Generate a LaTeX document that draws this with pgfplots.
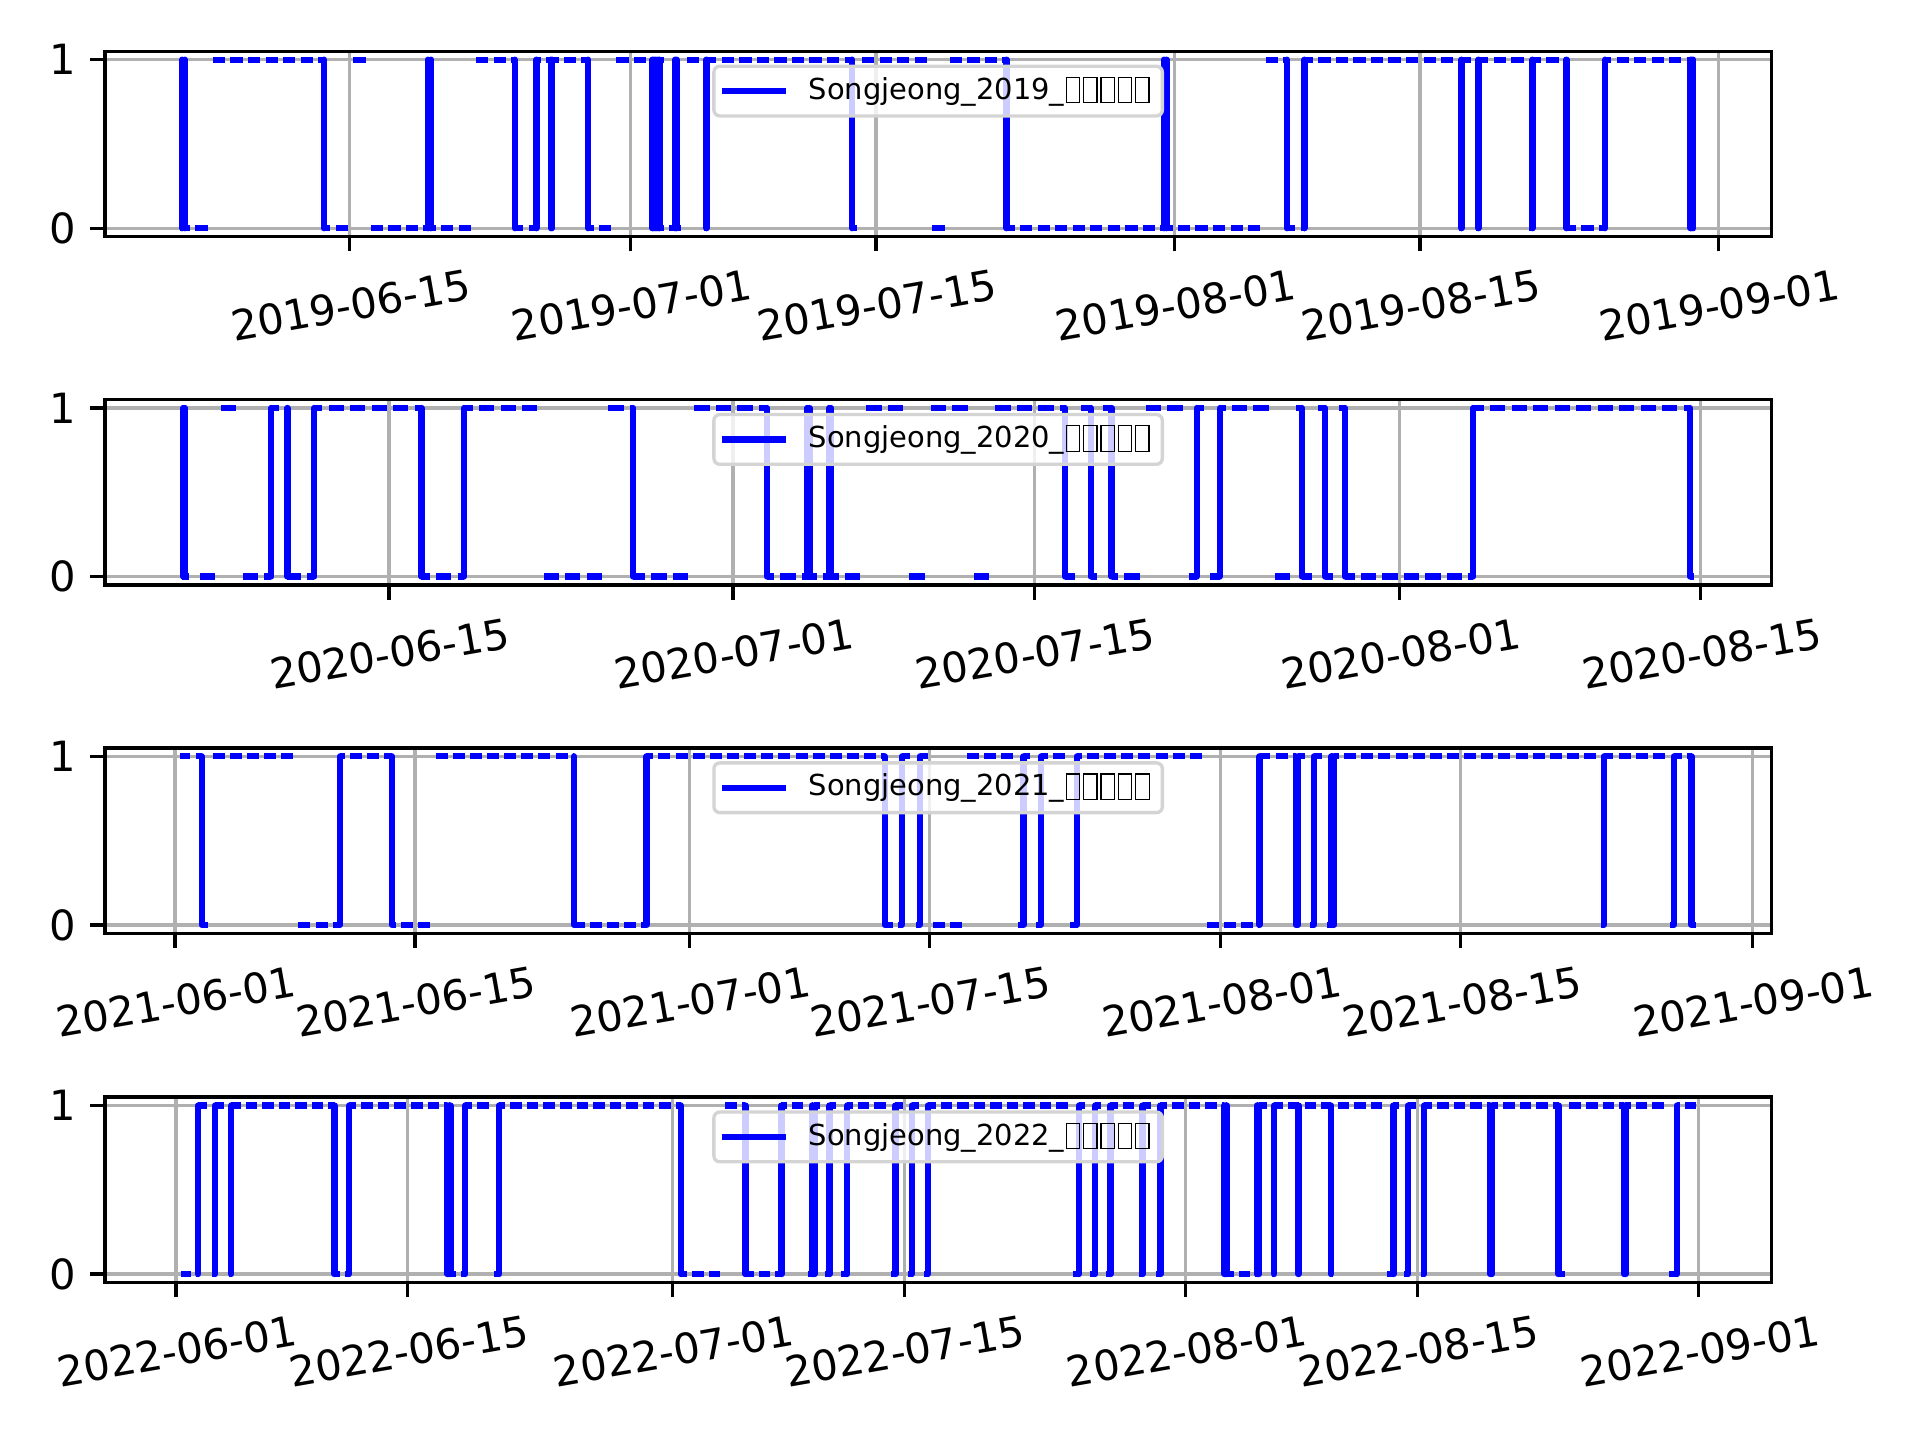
\documentclass[border=0pt]{standalone}
\usepackage{fontspec}
\setmainfont{DejaVu Sans}
\usepackage{pgfplots}
\usepackage{pgfplotstable}
\pgfplotsset{compat=1.18}
\definecolor{gridgray}{HTML}{B0B0B0}
\definecolor{legendgray}{HTML}{D4D4D4}
\newcommand\tofu{\makebox[0.6em][c]{\setlength\fboxsep{0pt}\setlength\fboxrule{0.3bp}\fbox{\rule[-0.1em]{0pt}{0.84em}\hspace{0.42em}}}}
\newcommand\tofus{\tofu\tofu\tofu\tofu\tofu}

% ---------------- 2019 ----------------
\pgfplotstableread[row sep=\\]{
x y\\
5.2 0\\5.9 0\\nan nan\\
6.2 1\\12.52 1\\nan nan\\
13.2 0\\13.9 0\\nan nan\\
14.2 1\\14.9 1\\nan nan\\
15.2 0\\20.9 0\\nan nan\\
21.2 1\\23.4 1\\nan nan\\
24.2 0\\24.64 0\\nan nan\\
25.2 1\\27.59 1\\nan nan\\
28.2 0\\28.9 0\\nan nan\\
29.2 1\\30.9 1\\nan nan\\
32.2 0\\32.9 0\\nan nan\\
33.2 1\\33.9 1\\nan nan\\
34.2 0\\34.33 0\\nan nan\\
35.2 1\\42.63 1\\nan nan\\
43.2 1\\46.9 1\\nan nan\\
47.2 0\\47.9 0\\nan nan\\
48.2 1\\51.43 1\\nan nan\\
52.2 0\\65.9 0\\nan nan\\
66.2 1\\67.4 1\\nan nan\\
68.2 0\\68.42 0\\nan nan\\
69.2 1\\76.9 1\\nan nan\\
77.2 0\\77.37 0\\nan nan\\
78.2 0\\78.33 0\\nan nan\\
79.2 1\\80.9 1\\nan nan\\
81.2 0\\81.41 0\\nan nan\\
82.2 1\\83.35 1\\nan nan\\
84.2 0\\85.55 0\\nan nan\\
86.2 1\\90.42 1\\
}\Adash
\pgfplotstableread[row sep=\\]{
x y\\
4.3 0\\4.9 0\\nan nan\\
4.45 1\\4.6 1\\nan nan\\
12.52 0\\12.9 0\\nan nan\\
18.45 1\\18.62 1\\nan nan\\
23.4 0\\23.9 0\\nan nan\\
24.64 1\\24.9 1\\nan nan\\
25.47 0\\25.53 0\\nan nan\\
27.59 0\\27.9 0\\nan nan\\
31.2 1\\31.9 1\\nan nan\\
31.2 0\\31.9 0\\nan nan\\
32.55 1\\32.62 1\\nan nan\\
34.33 1\\34.9 1\\nan nan\\
42.63 0\\42.9 0\\nan nan\\
51.43 0\\51.9 0\\nan nan\\
60.4 1\\60.55 1\\nan nan\\
67.4 0\\67.9 0\\nan nan\\
68.42 1\\68.9 1\\nan nan\\
77.37 1\\77.9 1\\nan nan\\
78.33 1\\78.9 1\\nan nan\\
81.41 1\\81.9 1\\nan nan\\
83.35 0\\83.9 0\\nan nan\\
85.55 1\\85.9 1\\nan nan\\
90.42 0\\90.5 0\\nan nan\\
90.5 1\\90.58 1\\nan nan\\
90.58 0\\90.7 0\\
}\Asolid
\pgfplotstableread[row sep=\\]{
x y\\
4.45 1\\4.6 1\\12.52 1\\18.45 1\\18.62 1\\23.4 1\\24.64 1\\25.47 1\\25.53 1\\27.59 1\\
31.25 1\\31.35 1\\31.45 1\\31.55 1\\31.65 1\\32.55 1\\32.62 1\\34.33 1\\42.63 1\\51.43 1\\
60.4 1\\60.55 1\\67.4 1\\68.42 1\\77.37 1\\78.33 1\\81.41 1\\83.35 1\\85.55 1\\
90.42 1\\90.5 1\\90.58 1\\
}\Avert

% ---------------- 2020 ----------------
\pgfplotstableread[row sep=\\]{
x y\\
5.2 0\\5.9 0\\nan nan\\
6.2 1\\6.9 1\\nan nan\\
7.2 0\\7.9 0\\nan nan\\
8.2 0\\8.52 0\\nan nan\\
9.2 1\\9.27 1\\nan nan\\
10.2 0\\10.52 0\\nan nan\\
11.2 1\\15.5 1\\nan nan\\
16.2 0\\17.49 0\\nan nan\\
18.2 1\\20.9 1\\nan nan\\
21.2 0\\23.9 0\\nan nan\\
24.2 1\\25.34 1\\nan nan\\
26.2 0\\27.9 0\\nan nan\\
28.2 1\\31.57 1\\nan nan\\
32.2 0\\35.9 0\\nan nan\\
36.2 1\\37.9 1\\nan nan\\
38.2 0\\38.9 0\\nan nan\\
39.2 1\\40.9 1\\nan nan\\
41.2 0\\41.9 0\\nan nan\\
42.2 1\\45.43 1\\nan nan\\
46.2 1\\46.63 1\\nan nan\\
47.2 1\\47.6 1\\nan nan\\
48.2 0\\48.9 0\\nan nan\\
49.2 1\\50.9 1\\nan nan\\
51.2 0\\51.56 0\\nan nan\\
52.2 0\\52.64 0\\nan nan\\
53.2 1\\54.9 1\\nan nan\\
55.2 0\\55.9 0\\nan nan\\
56.2 1\\56.44 1\\nan nan\\
57.2 1\\57.52 1\\nan nan\\
58.2 1\\58.45 1\\nan nan\\
59.2 0\\64.42 0\\nan nan\\
65.2 1\\74.5 1\\
}\Bdash
\pgfplotstableread[row sep=\\]{
x y\\
4.35 0\\4.7 0\\nan nan\\
4.42 1\\4.5 1\\nan nan\\
8.52 1\\8.9 1\\nan nan\\
9.27 0\\9.9 0\\nan nan\\
10.52 1\\10.9 1\\nan nan\\
15.5 0\\15.9 0\\nan nan\\
17.49 1\\17.9 1\\nan nan\\
25.34 0\\25.9 0\\nan nan\\
31.57 0\\31.9 0\\nan nan\\
33.45 1\\33.55 1\\nan nan\\
34.47 1\\34.55 1\\nan nan\\
45.43 0\\45.9 0\\nan nan\\
46.63 0\\46.9 0\\nan nan\\
47.6 0\\47.9 0\\nan nan\\
51.56 1\\51.9 1\\nan nan\\
52.64 1\\52.9 1\\nan nan\\
56.44 0\\56.9 0\\nan nan\\
57.52 0\\57.9 0\\nan nan\\
58.45 0\\58.9 0\\nan nan\\
64.42 1\\64.9 1\\nan nan\\
74.5 0\\74.7 0\\
}\Bsolid
\pgfplotstableread[row sep=\\]{
x y\\
4.42 1\\4.5 1\\8.52 1\\9.27 1\\10.52 1\\15.5 1\\17.49 1\\25.34 1\\31.57 1\\33.45 1\\33.55 1\\
34.47 1\\34.55 1\\45.43 1\\46.63 1\\47.6 1\\51.56 1\\52.64 1\\56.44 1\\57.52 1\\58.45 1\\
64.42 1\\74.5 1\\
}\Bvert

% ---------------- 2021 ----------------
\pgfplotstableread[row sep=\\]{
x y\\
1.2 1\\1.56 1\\nan nan\\
2.2 1\\6.9 1\\nan nan\\
7.2 0\\9.63 0\\nan nan\\
10.2 1\\12.66 1\\nan nan\\
13.2 0\\14.9 0\\nan nan\\
15.2 1\\23.28 1\\nan nan\\
24.2 0\\27.5 0\\nan nan\\
28.2 1\\41.4 1\\nan nan\\
42.2 0\\42.4 0\\nan nan\\
43.2 0\\43.44 0\\nan nan\\
44.2 0\\45.9 0\\nan nan\\
46.2 1\\48.9 1\\nan nan\\
49.2 0\\49.5 0\\nan nan\\
50.2 0\\50.52 0\\nan nan\\
51.2 1\\51.9 1\\nan nan\\
52.2 0\\52.6 0\\nan nan\\
53.2 1\\59.9 1\\nan nan\\
60.2 0\\63.26 0\\nan nan\\
64.2 1\\65.38 1\\nan nan\\
66.2 0\\66.42 0\\nan nan\\
67.2 0\\67.45 0\\nan nan\\
68.2 1\\82.9 1\\nan nan\\
83.2 0\\83.34 0\\nan nan\\
84.2 1\\86.9 1\\nan nan\\
87.2 0\\87.42 0\\nan nan\\
88.2 1\\88.46 1\\
}\Cdash
\pgfplotstableread[row sep=\\]{
x y\\
0.3 1\\0.9 1\\nan nan\\
1.56 0\\1.9 0\\nan nan\\
9.63 1\\9.9 1\\nan nan\\
12.66 0\\12.9 0\\nan nan\\
23.28 0\\23.9 0\\nan nan\\
27.5 1\\27.9 1\\nan nan\\
41.4 0\\41.9 0\\nan nan\\
42.4 1\\42.9 1\\nan nan\\
43.44 1\\43.9 1\\nan nan\\
49.5 1\\49.9 1\\nan nan\\
50.52 1\\50.9 1\\nan nan\\
52.6 1\\52.9 1\\nan nan\\
63.26 1\\63.9 1\\nan nan\\
65.38 0\\65.5 0\\nan nan\\
65.5 1\\65.9 1\\nan nan\\
66.42 1\\66.9 1\\nan nan\\
67.45 1\\67.52 1\\nan nan\\
67.52 0\\67.6 0\\nan nan\\
67.6 1\\67.9 1\\nan nan\\
83.34 1\\83.9 1\\nan nan\\
87.42 1\\87.9 1\\nan nan\\
88.46 0\\88.7 0\\
}\Csolid
\pgfplotstableread[row sep=\\]{
x y\\
1.56 1\\9.63 1\\12.66 1\\23.28 1\\27.5 1\\41.4 1\\42.4 1\\43.44 1\\49.5 1\\50.52 1\\52.6 1\\
63.26 1\\65.38 1\\65.5 1\\66.42 1\\67.45 1\\67.52 1\\67.6 1\\83.34 1\\87.42 1\\88.46 1\\
}\Cvert

% ---------------- 2022 ----------------
\pgfplotstableread[row sep=\\]{
x y\\
1.2 0\\1.33 0\\nan nan\\
2.2 0\\2.36 0\\nan nan\\
3.2 0\\3.34 0\\nan nan\\
4.2 1\\9.58 1\\nan nan\\
10.2 0\\10.46 0\\nan nan\\
11.2 1\\16.4 1\\nan nan\\
17.2 0\\17.48 0\\nan nan\\
18.2 1\\18.9 1\\nan nan\\
19.2 0\\19.52 0\\nan nan\\
20.2 1\\30.5 1\\nan nan\\
31.2 0\\32.9 0\\nan nan\\
33.2 1\\34.41 1\\nan nan\\
35.2 0\\36.58 0\\nan nan\\
37.2 1\\37.9 1\\nan nan\\
38.2 0\\38.42 0\\nan nan\\
39.2 0\\39.49 0\\nan nan\\
40.2 0\\40.56 0\\nan nan\\
41.2 1\\42.9 1\\nan nan\\
43.2 0\\43.47 0\\nan nan\\
44.2 0\\44.45 0\\nan nan\\
45.2 0\\45.42 0\\nan nan\\
46.2 1\\53.9 1\\nan nan\\
54.2 0\\54.56 0\\nan nan\\
55.2 0\\55.55 0\\nan nan\\
56.2 0\\56.46 0\\nan nan\\
57.2 1\\57.9 1\\nan nan\\
58.2 0\\58.4 0\\nan nan\\
59.2 0\\59.48 0\\nan nan\\
60.2 1\\63.35 1\\nan nan\\
64.2 0\\64.9 0\\nan nan\\
65.2 0\\65.3 0\\nan nan\\
66.2 0\\66.35 0\\nan nan\\
67.2 1\\67.83 1\\nan nan\\
68.2 1\\69.79 1\\nan nan\\
70.2 1\\72.9 1\\nan nan\\
73.2 0\\73.56 0\\nan nan\\
74.2 0\\74.44 0\\nan nan\\
75.2 0\\75.42 0\\nan nan\\
76.2 1\\79.42 1\\nan nan\\
80.2 1\\83.54 1\\nan nan\\
84.2 1\\87.5 1\\nan nan\\
88.2 1\\89.9 1\\nan nan\\
90.2 0\\90.68 0\\nan nan\\
91.2 1\\91.85 1\\
}\Ddash
\pgfplotstableread[row sep=\\]{
x y\\
0.3 0\\0.9 0\\nan nan\\
1.33 1\\1.9 1\\nan nan\\
2.36 1\\2.9 1\\nan nan\\
3.34 1\\3.9 1\\nan nan\\
9.58 0\\9.9 0\\nan nan\\
10.46 1\\10.9 1\\nan nan\\
16.4 0\\16.9 0\\nan nan\\
16.5 1\\16.58 1\\nan nan\\
17.48 1\\17.9 1\\nan nan\\
19.52 1\\19.9 1\\nan nan\\
30.5 0\\30.9 0\\nan nan\\
34.41 0\\34.9 0\\nan nan\\
36.58 1\\36.9 1\\nan nan\\
38.42 1\\38.5 1\\nan nan\\
38.5 0\\38.58 0\\nan nan\\
38.58 1\\38.9 1\\nan nan\\
39.49 1\\39.9 1\\nan nan\\
40.56 1\\40.9 1\\nan nan\\
43.47 1\\43.9 1\\nan nan\\
44.45 1\\44.9 1\\nan nan\\
45.42 1\\45.9 1\\nan nan\\
54.56 1\\54.9 1\\nan nan\\
55.55 1\\55.9 1\\nan nan\\
56.46 1\\56.9 1\\nan nan\\
58.4 1\\58.9 1\\nan nan\\
59.48 1\\59.9 1\\nan nan\\
63.35 0\\63.42 0\\nan nan\\
63.42 1\\63.5 1\\nan nan\\
63.5 0\\63.9 0\\nan nan\\
65.3 1\\65.37 1\\nan nan\\
65.37 0\\65.45 0\\nan nan\\
65.45 1\\65.9 1\\nan nan\\
66.35 1\\66.9 1\\nan nan\\
67.83 0\\67.9 0\\nan nan\\
69.79 0\\69.9 0\\nan nan\\
73.56 1\\73.9 1\\nan nan\\
74.44 1\\74.9 1\\nan nan\\
75.42 1\\75.9 1\\nan nan\\
79.42 0\\79.5 0\\nan nan\\
79.5 1\\79.9 1\\nan nan\\
83.54 0\\83.9 0\\nan nan\\
87.5 0\\87.58 0\\nan nan\\
87.58 1\\87.9 1\\nan nan\\
90.68 1\\90.9 1\\
}\Dsolid
\pgfplotstableread[row sep=\\]{
x y\\
1.33 1\\2.36 1\\3.34 1\\9.58 1\\10.46 1\\16.4 1\\16.5 1\\16.58 1\\17.48 1\\19.52 1\\30.5 1\\
34.41 1\\36.58 1\\38.42 1\\38.5 1\\38.58 1\\39.49 1\\40.56 1\\43.47 1\\44.45 1\\45.42 1\\
54.56 1\\55.55 1\\56.46 1\\58.4 1\\59.48 1\\63.35 1\\63.42 1\\63.5 1\\65.3 1\\65.37 1\\
65.45 1\\66.35 1\\67.83 1\\69.79 1\\73.56 1\\74.44 1\\75.42 1\\79.42 1\\79.5 1\\83.54 1\\
87.5 1\\87.58 1\\90.68 1\\
}\Dvert

\pgfplotsset{
  panel/.style={
    scale only axis, width=399.9bp, height=44.5bp,
    anchor=south west,
    ymin=-0.05, ymax=1.05,
    ytick={0,1},
    axis line style={line width=0.8bp},
    tick align=outside, tick pos=left,
    major tick length=3.5bp,
    major tick style={black, line width=0.8bp},
    grid=major,
    major grid style={color=gridgray, line width=0.8bp},
    tick label style={font=\fontsize{10bp}{12bp}\selectfont},
    /pgf/number format/assume math mode=true,
    xticklabel style={rotate=10, anchor=center, yshift=-12.8bp, xshift=-2bp},
    unbounded coords=jump,
    legend style={at={(0.5,1)}, anchor=north, yshift=-3.2bp,
      font=\fontsize{6.94bp}{8.3bp}\selectfont,
      draw=legendgray, line width=0.8bp, fill=white, fill opacity=0.8, text opacity=1,
      rounded corners=1.4bp, inner xsep=1.2bp, inner ysep=1.5bp,
      nodes={inner xsep=1.5bp, inner ysep=1bp},
      /tikz/every odd column/.append style={column sep=3.2bp}},
    legend cell align=left,
    legend image code/.code={\draw[##1] (0bp,0bp) -- (15.4bp,0bp);},
  },
  series/.style={blue, line width=1.5bp, forget plot},
}

\begin{document}
\begin{tikzpicture}
\useasboundingbox (0,0) rectangle (460.8bp,345.6bp);

\begin{axis}[panel, at={(25.2bp,288.8bp)}, xmin=0.05, xmax=95.02,
  xtick={14,30,44,61,75,92},
  xticklabels={2019-06-15,2019-07-01,2019-07-15,2019-08-01,2019-08-15,2019-09-01}]
\addplot[series, dash pattern=on 2.948bp off 1.263bp] table {\Adash};
\addplot[series] table {\Asolid};
\addplot[series, ycomb, line cap=round] table {\Avert};
\addlegendimage{blue, line width=1.5bp}
\addlegendentry{Songjeong\_2019\_\tofus}
\end{axis}

\begin{axis}[panel, at={(25.2bp,205.2bp)}, xmin=0.785, xmax=78.28,
  xtick={14,30,44,61,75},
  xticklabels={2020-06-15,2020-07-01,2020-07-15,2020-08-01,2020-08-15}]
\addplot[series, dash pattern=on 3.612bp off 1.548bp] table {\Bdash};
\addplot[series] table {\Bsolid};
\addplot[series, ycomb, line cap=round] table {\Bvert};
\addlegendimage{blue, line width=1.5bp}
\addlegendentry{Songjeong\_2020\_\tofus}
\end{axis}

\begin{axis}[panel, at={(25.2bp,121.6bp)}, xmin=-4.08, xmax=93.11,
  xtick={0,14,30,44,61,75,92},
  xticklabels={2021-06-01,2021-06-15,2021-07-01,2021-07-15,2021-08-01,2021-08-15,2021-09-01}]
\addplot[series, dash pattern=on 2.880bp off 1.234bp] table {\Cdash};
\addplot[series] table {\Csolid};
\addplot[series, ycomb, line cap=round] table {\Cvert};
\addlegendimage{blue, line width=1.5bp}
\addlegendentry{Songjeong\_2021\_\tofus}
\end{axis}

\begin{axis}[panel, at={(25.2bp,37.8bp)}, xmin=-4.29, xmax=96.39,
  xtick={0,14,30,44,61,75,92},
  xticklabels={2022-06-01,2022-06-15,2022-07-01,2022-07-15,2022-08-01,2022-08-15,2022-09-01}]
\addplot[series, dash pattern=on 2.780bp off 1.192bp] table {\Ddash};
\addplot[series] table {\Dsolid};
\addplot[series, ycomb, line cap=round] table {\Dvert};
\addlegendimage{blue, line width=1.5bp}
\addlegendentry{Songjeong\_2022\_\tofus}
\end{axis}
\end{tikzpicture}
\end{document}
